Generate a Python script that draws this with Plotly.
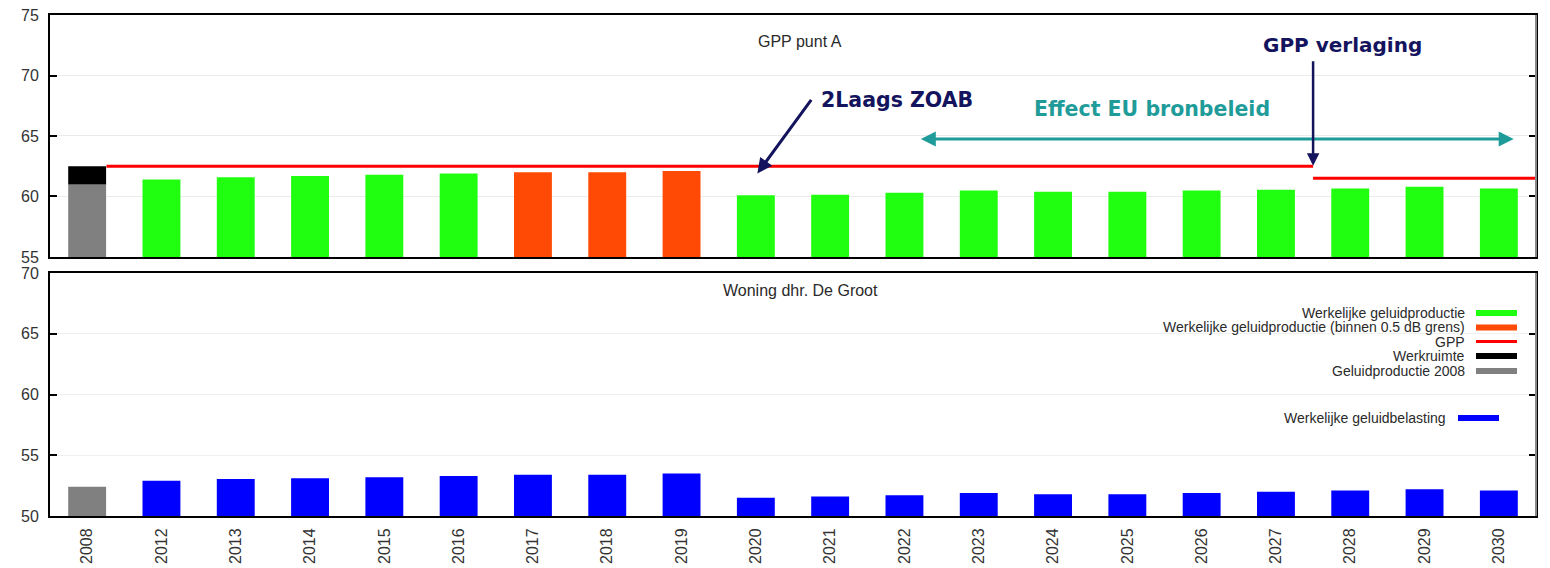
import plotly.graph_objects as go

years = ["2008", "2012", "2013", "2014", "2015", "2016", "2017", "2018", "2019", "2020",
         "2021", "2022", "2023", "2024", "2025", "2026", "2027", "2028", "2029", "2030"]

# top panel: GPP punt A
prod_2008 = 61.0
werkruimte_top = 62.5
prod_values = [None, 61.4, 61.6, 61.7, 61.8, 61.9, 62.0, 62.0, 62.1, 60.1,
               60.15, 60.3, 60.5, 60.4, 60.4, 60.5, 60.55, 60.65, 60.8, 60.65]
within_05 = ["2017", "2018", "2019"]
gpp_level = [62.5, 61.5]
gpp_from = [0.26, 16.5]
gpp_to = [16.5, 19.5]

# bottom panel: Woning dhr. De Groot
belasting_2008 = 52.4
belasting = [None, 52.9, 53.05, 53.1, 53.2, 53.3, 53.4, 53.4, 53.5, 51.5,
             51.6, 51.7, 51.9, 51.8, 51.8, 51.9, 52.0, 52.1, 52.2, 52.1]

GREEN = "#20ff10"
ORANGE = "#ff4a05"
RED = "#ff0000"
GRAY = "#808080"
BLUE = "#0000ff"
NAVY = "#14145e"
TEAL = "#1f9c9a"
FONT = "Liberation Sans, Arial, sans-serif"
BOLDFONT = "DejaVu Sans, Verdana, sans-serif"
TXT = "#2a2a2a"

xs = list(range(len(years)))
bw = 0.51

fig = go.Figure()

g_x = [i for i, y in enumerate(years) if prod_values[i] is not None and y not in within_05]
o_x = [i for i, y in enumerate(years) if prod_values[i] is not None and y in within_05]
fig.add_trace(go.Bar(x=g_x, y=[prod_values[i] for i in g_x], width=bw, marker_color=GREEN,
                     marker_line_width=0, xaxis="x", yaxis="y"))
fig.add_trace(go.Bar(x=o_x, y=[prod_values[i] for i in o_x], width=bw, marker_color=ORANGE,
                     marker_line_width=0, xaxis="x", yaxis="y"))
fig.add_trace(go.Bar(x=[0], y=[prod_2008], width=bw, marker_color=GRAY,
                     marker_line_width=0, xaxis="x", yaxis="y"))
fig.add_trace(go.Bar(x=[0], y=[werkruimte_top - prod_2008], base=[prod_2008], width=bw,
                     marker_color="#000000", marker_line_width=0, xaxis="x", yaxis="y"))
for lv, a, b in zip(gpp_level, gpp_from, gpp_to):
    fig.add_trace(go.Scatter(x=[a, b], y=[lv, lv], mode="lines", line=dict(color=RED, width=3),
                             xaxis="x", yaxis="y", cliponaxis=True))

b_x = [i for i in xs if belasting[i] is not None]
fig.add_trace(go.Bar(x=b_x, y=[belasting[i] for i in b_x], width=bw, marker_color=BLUE,
                     marker_line_width=0, xaxis="x2", yaxis="y2"))
fig.add_trace(go.Bar(x=[0], y=[belasting_2008], width=bw, marker_color=GRAY,
                     marker_line_width=0, xaxis="x2", yaxis="y2"))

W, H = 1550, 568
L, R, T, B = 42, 22, 7, 60
OFF = 8  # page body offset

line_common = dict(showline=True, linecolor="#000000", linewidth=2, zeroline=False,
                   automargin=False)
yax_common = dict(ticks="inside", ticklen=7, tickcolor="#000000", tickwidth=1.5,
                  showgrid=True, tickfont=dict(size=16, color="#333333"),
                  ticklabelstandoff=6, ticklabeloverflow="allow", mirror="ticks",
                  **line_common)
TOP_DOM = [0.517, 1.0]
BOT_DOM = [0.0, 0.485]
fig.update_layout(
    width=W, height=H,
    margin=dict(l=L, r=R, t=T, b=B),
    paper_bgcolor="white", plot_bgcolor="white",
    showlegend=False, barmode="overlay",
    font=dict(family=FONT, color="#333333"),
    xaxis=dict(domain=[0, 1], anchor="y", range=[-0.5, 19.5], showticklabels=False,
               ticks="", showgrid=False, tickvals=xs, mirror=True, **line_common),
    yaxis=dict(domain=TOP_DOM, anchor="x", range=[55, 75], dtick=5, tick0=55,
               gridcolor="#ebebeb", **yax_common),
    xaxis2=dict(domain=[0, 1], anchor="y2", range=[-0.5, 19.5], matches="x",
                tickvals=xs, ticktext=years, tickangle=-90, ticks="",
                ticklabelstandoff=4, ticklabeloverflow="allow",
                tickfont=dict(size=16, color="#333333"), showgrid=False, mirror=True,
                **line_common),
    yaxis2=dict(domain=BOT_DOM, anchor="x2", range=[50, 70], dtick=5, tick0=50,
                gridcolor="#efefef", **yax_common),
)

ann = []
ann.append(dict(xref="x", yref="y", x=9.6, y=72.8, text="GPP punt A", showarrow=False,
                font=dict(family=FONT, size=16, color=TXT)))
ann.append(dict(xref="x2", yref="y2", x=9.6, y=68.6, text="Woning dhr. De Groot",
                showarrow=False, font=dict(family=FONT, size=16, color=TXT)))
# 2Laags ZOAB
ann.append(dict(xref="x", yref="y", x=9.02, y=61.9, ax=9.76, ay=68.1, axref="x", ayref="y",
                text="", showarrow=True, arrowhead=2, arrowsize=1, arrowwidth=3,
                arrowcolor=NAVY))
ann.append(dict(xref="x", yref="y", x=9.85, y=68.0, text="<b>2Laags ZOAB</b>", showarrow=False,
                xanchor="left", font=dict(family=BOLDFONT, size=20.5, color=NAVY)))
# Effect EU bronbeleid
ann.append(dict(xref="x", yref="y", x=19.2, y=64.75, ax=11.2, ay=64.75, axref="x", ayref="y",
                text="", showarrow=True, arrowhead=2, startarrowhead=2, arrowside="end+start",
                arrowsize=1, startarrowsize=1, arrowwidth=3, arrowcolor=TEAL))
ann.append(dict(xref="x", yref="y", x=14.33, y=67.2, text="<b>Effect EU bronbeleid</b>",
                showarrow=False, font=dict(family=BOLDFONT, size=20.5, color=TEAL)))
# GPP verlaging
ann.append(dict(xref="x", yref="y", x=16.5, y=62.55, ax=16.5, ay=71.3, axref="x", ayref="y",
                text="", showarrow=True, arrowhead=2, arrowsize=1, arrowwidth=2.5,
                arrowcolor=NAVY))
ann.append(dict(xref="x", yref="y", x=16.9, y=72.5, text="<b>GPP verlaging</b>",
                showarrow=False, font=dict(family=BOLDFONT, size=20, color=NAVY)))

legend_items = [
    ("Werkelijke geluidproductie", GREEN, 6),
    ("Werkelijke geluidproductie (binnen 0.5 dB grens)", ORANGE, 6),
    ("GPP", RED, 3),
    ("Werkruimte", "#000000", 6),
    ("Geluidproductie 2008", GRAY, 6),
]
pw, ph = W - L - R, H - T - B
def px(xr):
    return (xr - OFF - L) / pw
def py(yr):
    return (H - B - (yr - OFF)) / ph
row_y = [313, 327.5, 341.5, 356, 371]
shapes = []
for (label, col, th), yy in zip(legend_items, row_y):
    ann.append(dict(xref="paper", yref="paper", x=px(1467), y=py(yy), text=label,
                    showarrow=False, xanchor="right", yanchor="middle",
                    font=dict(family=FONT, size=14, color=TXT)))
    shapes.append(dict(type="rect", xref="paper", yref="paper", x0=px(1476), x1=px(1517),
                       y0=py(yy + th / 2), y1=py(yy - th / 2), fillcolor=col, line_width=0))
ann.append(dict(xref="paper", yref="paper", x=px(1448), y=py(418),
                text="Werkelijke geluidbelasting", showarrow=False, xanchor="right",
                yanchor="middle", font=dict(family=FONT, size=14, color=TXT)))
shapes.append(dict(type="rect", xref="paper", yref="paper", x0=px(1458), x1=px(1499),
                   y0=py(421), y1=py(415), fillcolor=BLUE, line_width=0))
# grey right-hand frame edge
for dom in (TOP_DOM, BOT_DOM):
    shapes.append(dict(type="line", xref="paper", yref="paper", x0=1, x1=1,
                       y0=dom[0], y1=dom[1], line=dict(color="#8a8a8a", width=2),
                       layer="above"))

fig.update_layout(annotations=ann, shapes=shapes)
fig.write_html("out.html")
